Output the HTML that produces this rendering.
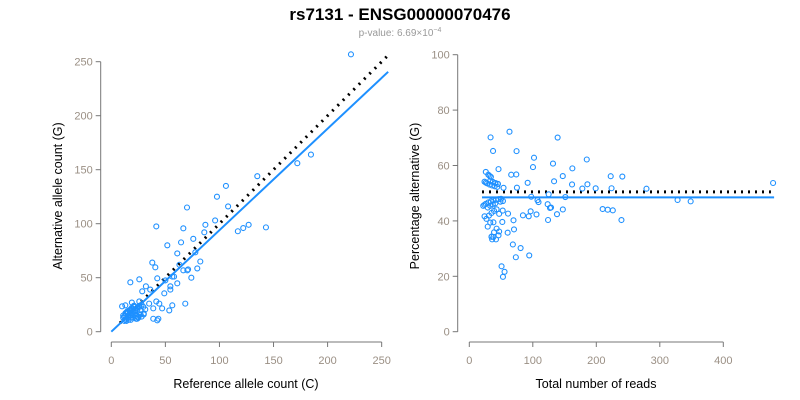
<!DOCTYPE html>
<html><head><meta charset="utf-8"><style>
body{margin:0;background:#fff;}
svg{display:block;font-family:"Liberation Sans",sans-serif;}
</style></head><body>
<svg id="chart" width="800" height="400" viewBox="0 0 800 400">
<text x="400" y="20" text-anchor="middle" font-size="17" font-weight="bold" fill="#000">rs7131 - ENSG00000070476</text>
<text x="400" y="36" text-anchor="middle" font-size="10" fill="#999">p-value: 6.69×10<tspan dy="-4" font-size="7">−4</tspan></text>
<g id="left"></g>
<g id="right"></g>
</svg>
<script>
const refCounts = [221.6,184.6,172,135,106,97.7,108,70,96,87,127,122,117,143,66.6,41.6,86,75.8,64.5,51.8,61,77.7,37.9,40.7,82.3,63,79.5,71,66.6,70.3,74,56.4,58,42.5,50,61,25.9,17.6,32,28.6,36,49,54.6,54.6,68.4,56.4,53.6,43.5,42.5,38.8,47,38.8,35,44.4,41.6,25.9,29.6,31.4,19,10,13,
 12,14,16,18,20,22,24,26,28,30,11,13,15,17,19,21,23,25,27,14,16,18,20,22,24,12,15,17,19,21,23,25,13,16,18,20,22,26,28,14,17,19,21,24,11,13,15,18,20,23,30,27];
const altCounts = [256.8,164,156,144,135,125,116,115,103,99,99,96,93,96.6,95.7,97.5,92,86,82.7,80,72.5,73.5,64,59.6,65,62,58.6,57.7,56.8,56.8,50,51,51,49.4,47.5,44.8,48.5,45.7,42,37.4,39,35.5,42,39,26,24.4,19.7,12,10.5,12,21.6,21.6,26,26,28,28,23,20.6,27,23.5,24.4,
 10,12,14,16,18,20,22,24,14,16,13,15,17,19,21,23,12,14,16,10,11,13,15,17,19,14,18,20,22,24,12,13,11,13,15,17,19,23,25,18,20,22,24,12,15,17,19,11,13,15,17,20];
const leftTicks = [0,50,100,150,200,250];
const rightXTicks = [0,100,200,300,400];
const rightYTicks = [0,20,40,60,80,100];
const fitSlope = 0.94;
const refPct = 50.5;
const fitPct = 48.5;

const NS="http://www.w3.org/2000/svg";
function mk(parent,tag,attrs){const e=document.createElementNS(NS,tag);for(const k in attrs)e.setAttribute(k,attrs[k]);parent.appendChild(e);return e;}
const axisCol="#777", tickCol="#9a8f84", blue="#1e90ff";

const lx=v=>111.3+v*1.0815, ly=v=>331.7-v*1.08;
const L=document.getElementById('left');
function axes(g,xs,ys,xt,yt,xAxY,yAxX,xlab,ylab,ylabX,xlabCx){
  let a=mk(g,'line',{x1:xs(xt[0]),x2:xs(xt[xt.length-1]),y1:xAxY,y2:xAxY,stroke:axisCol});
  
  xt.forEach(t=>{mk(g,'line',{x1:xs(t),x2:xs(t),y1:xAxY,y2:xAxY+5,stroke:axisCol});
    const tx=mk(g,'text',{x:xs(t),y:xAxY+22,'text-anchor':'middle','font-size':11,fill:tickCol});tx.textContent=t;
    });
  let b=mk(g,'line',{x1:yAxX,x2:yAxX,y1:ys(yt[0]),y2:ys(yt[yt.length-1]),stroke:axisCol});
  
  yt.forEach(t=>{mk(g,'line',{x1:yAxX-5,x2:yAxX,y1:ys(t),y2:ys(t),stroke:axisCol});
    const tx=mk(g,'text',{x:yAxX-8,y:ys(t)+4,'text-anchor':'end','font-size':11,fill:tickCol});tx.textContent=t;
    });
  const xl=mk(g,'text',{x:xlabCx,y:388,'text-anchor':'middle','font-size':12.5,fill:'#000'});xl.textContent=xlab;
  
  const yl=mk(g,'text',{x:ylabX,y:196,'text-anchor':'middle','font-size':12.5,fill:'#000',transform:`rotate(-90 ${ylabX} 196)`});yl.textContent=ylab;
  
}
axes(L,lx,ly,leftTicks,leftTicks,342,100.7,'Reference allele count (C)','Alternative allele count (G)',62,246);
let d1=mk(L,'line',{x1:lx(8),y1:ly(8),x2:lx(256),y2:ly(256),stroke:'#000','stroke-width':3,'stroke-dasharray':'2 5.5'});

let f1=mk(L,'line',{x1:lx(0),y1:ly(0),x2:lx(256),y2:ly(256*fitSlope),stroke:blue,'stroke-width':2});

refCounts.forEach((r,i)=>{const c=mk(L,'circle',{cx:lx(r),cy:ly(altCounts[i]),r:2.5,fill:'none',stroke:blue,'stroke-width':1.1});
  });

const rx=v=>469.3+v*0.635, ry=v=>331.7-v*2.77;
const R=document.getElementById('right');
axes(R,rx,ry,rightXTicks,rightYTicks,342,457.7,'Total number of reads','Percentage alternative (G)',419,596);
let d2=mk(R,'line',{x1:rx(20),y1:ry(refPct),x2:rx(475),y2:ry(refPct),stroke:'#000','stroke-width':3,'stroke-dasharray':'2 5'});

let f2=mk(R,'line',{x1:rx(20),y1:ry(fitPct),x2:rx(480),y2:ry(fitPct),stroke:blue,'stroke-width':2});

refCounts.forEach((r,i)=>{const a=altCounts[i],tot=r+a;
  const c=mk(R,'circle',{cx:rx(tot),cy:ry(100*a/tot),r:2.5,fill:'none',stroke:blue,'stroke-width':1.1});
  });
</script>
</body></html>
